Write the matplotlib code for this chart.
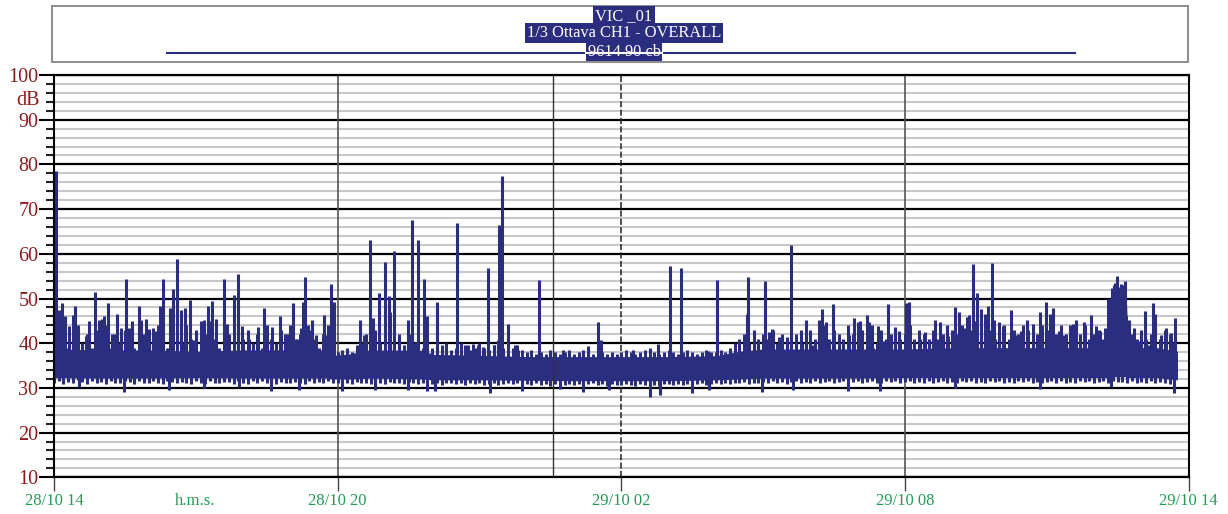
import matplotlib
matplotlib.use("Agg")
import matplotlib.pyplot as plt
from matplotlib.lines import Line2D
from matplotlib.patches import Rectangle
from matplotlib.ticker import MultipleLocator

plt.rcParams["font.family"] = ["Liberation Serif", "DejaVu Serif"]

NAVY = "#2b2e7e"
RED = "#8b1c1c"
GREEN = "#239b56"

# Time axis in minutes from 28/10 14:00
tick_min = [0, 360, 720, 1080, 1440]
tick_labels = ["28/10 14", "28/10 20", "29/10 02", "29/10 08", "29/10 14"]
cursor_min = 633

# Solid core of the background noise (dB)
band_min = [0, 60, 120, 180, 240, 300, 345, 355, 375, 400,
            470, 480, 540, 600, 660, 720, 780, 840, 870, 900,
            960, 1020, 1080, 1140, 1200, 1260, 1336, 1339, 1361, 1364,
            1400, 1426]
band_lo = [32.3, 32.2, 32.2, 32.3, 32.2, 32.2, 32.2, 32.0, 32.0, 32.2,
           32.0, 31.8, 31.8, 31.7, 31.6, 31.6, 31.6, 31.8, 32.0, 32.2,
           32.2, 32.2, 32.3, 32.3, 32.3, 32.3, 32.3, 32.5, 32.5, 32.3,
           32.3, 31.8]
band_hi = [38.7, 38.5, 38.5, 38.2, 38.5, 38.5, 38.5, 37.3, 37.6, 38.5,
           38.4, 37.5, 37.3, 37.0, 37.0, 37.0, 37.0, 37.2, 38.2, 38.7,
           38.7, 38.7, 38.7, 39.0, 39.0, 39.0, 39.0, 50.0, 50.0, 39.0,
           39.0, 38.2]

# Sampled envelope of the trace every 6 minutes: upper and lower reach (dB)
edge_step = 6
edge_hi = [
    42, 40, 43, 39, 41, 44, 40, 42, 39, 43,
    41, 44, 39, 42, 40, 43, 41, 39, 44, 42,
    40, 42, 44, 41, 39, 43, 42, 40, 44, 41,
    43, 40, 42, 45, 41, 39, 43, 42, 40, 44,
    41, 43, 40, 42, 39, 44, 41, 40, 43, 42,
    44, 41, 42, 40, 43, 41, 39, 42, 44, 40,
    38, 38.5, 39, 38, 39.5, 40, 42, 41, 43, 40,
    42, 40, 43, 41, 39, 42, 40, 41, 39, 40,
    39, 38.5, 39.5, 40, 38.5, 39, 40, 39.5, 38.5, 39,
    40, 39, 38.5, 39.5, 40, 39, 38.5, 39, 39.5, 38.5,
    38, 38.5, 37.5, 38, 37.5, 38.5, 38, 37.5, 38, 38.5,
    37.5, 38, 38.5, 38, 37.5, 39, 38, 37.5, 38, 37.5,
    38, 38.5, 38, 37.5, 38, 38.5, 39, 38, 37.5, 38,
    38.5, 38, 37.5, 38, 38.5, 38, 37.5, 38, 38.5, 38,
    38, 38.5, 38, 39, 40, 41, 42, 40, 43, 41,
    42, 41, 43, 40, 42, 41, 40, 42, 43, 41,
    43, 41, 42, 44, 41, 43, 42, 40, 44, 42,
    41, 43, 42, 44, 40, 43, 41, 42, 43, 41,
    42, 44, 41, 43, 42, 40, 43, 41, 42, 44,
    43, 42, 44, 41, 43, 45, 42, 44, 43, 41,
    42, 44, 41, 43, 42, 44, 43, 41, 42, 44,
    43, 41, 42, 44, 42, 41, 43, 42, 44, 41,
    42, 43, 41, 50, 51, 52, 50, 44, 42, 41,
    43, 41, 42, 44, 41, 43, 42, 40,
]
edge_lo = [
    31.2, 31.6, 30.9, 31.4, 31.0, 31.7, 31.3, 30.8, 31.5, 31.1,
    31.4, 30.9, 31.6, 31.2, 31.0, 31.5, 31.3, 30.9, 31.6, 31.2,
    31.0, 31.5, 31.2, 30.8, 31.6, 31.3, 31.0, 31.4, 31.1, 30.9,
    31.5, 31.1, 30.9, 31.6, 31.2, 31.0, 31.4, 31.3, 30.8, 31.5,
    31.2, 30.9, 31.5, 31.1, 31.6, 31.0, 31.3, 30.9, 31.4, 31.2,
    31.0, 31.4, 31.2, 30.8, 31.5, 31.1, 31.3, 31.0, 31.6, 31.2,
    31.0, 30.8, 31.2, 30.9, 31.3, 31.0, 31.2, 30.8, 31.4, 31.1,
    30.9, 31.3, 31.0, 31.2, 30.8, 31.4, 31.1, 30.9, 31.2, 31.0,
    30.8, 31.1, 30.7, 31.0, 31.2, 30.8, 31.0, 30.6, 31.1, 30.9,
    31.0, 30.7, 30.9, 31.1, 30.6, 30.9, 31.0, 30.8, 31.1, 30.7,
    30.8, 30.6, 31.0, 30.7, 30.9, 30.5, 30.8, 31.0, 30.6, 30.9,
    30.7, 30.9, 30.5, 30.8, 31.0, 30.6, 30.8, 30.5, 30.9, 30.7,
    30.6, 30.9, 30.7, 30.5, 30.8, 30.6, 30.9, 30.7, 30.5, 30.8,
    30.9, 30.6, 30.8, 30.7, 30.9, 30.6, 30.8, 31.0, 30.7, 30.9,
    31.0, 30.8, 31.1, 30.9, 31.2, 31.0, 31.3, 30.9, 31.2, 31.0,
    31.3, 31.0, 31.5, 31.1, 31.4, 30.9, 31.3, 31.6, 31.1, 31.4,
    31.2, 31.5, 31.0, 31.4, 31.6, 31.1, 31.3, 31.5, 31.0, 31.4,
    31.5, 31.1, 31.4, 31.6, 31.2, 31.0, 31.5, 31.3, 31.6, 31.1,
    31.3, 31.6, 31.1, 31.4, 31.2, 31.5, 31.0, 31.4, 31.6, 31.2,
    31.4, 31.1, 31.5, 31.3, 31.6, 31.0, 31.4, 31.2, 31.5, 31.3,
    31.6, 31.2, 31.4, 31.1, 31.5, 31.3, 31.6, 31.0, 31.4, 31.2,
    31.3, 31.5, 31.1, 31.6, 31.2, 31.4, 31.0, 31.5, 31.3, 31.6,
    31.2, 31.4, 31.6, 31.1, 31.5, 31.3, 31.4, 31.2, 31.5, 31.0,
    31.4, 31.1, 31.5, 31.2, 31.3, 31.0, 30.8, 30.5,
]
edge_min = [i * edge_step for i in range(len(edge_hi))]

# Short events above the background (minute, peak dB)
peak_min = [2, 6, 10, 14, 19, 24, 27, 40, 45, 52, 57, 61, 64, 69, 74, 80, 85, 91,
            95, 99, 108, 111, 117, 121, 126, 128, 134, 138, 147, 151, 156, 161,
            166, 173, 177, 187, 190, 195, 201, 205, 216, 219, 229, 234, 239, 248,
            259, 266, 277, 287, 293, 298, 303, 308, 313, 316, 319, 322, 327, 333,
            343, 347, 352, 355, 388, 394, 401, 405, 412, 420, 425, 427, 431, 438,
            444, 449, 455, 460, 462, 470, 473, 486, 511, 525, 532, 538, 544, 551,
            559, 563, 565, 569, 576, 585, 589, 615, 646, 678, 691, 694, 735, 767,
            782, 796, 830, 842, 877, 879, 881, 889, 894, 903, 907, 911, 920, 924,
            930, 935, 950, 955, 964, 971, 975, 980, 989, 996, 1002, 1009, 1016,
            1021, 1023, 1032, 1035, 1040, 1046, 1052, 1059, 1067, 1072, 1081, 1085,
            1091, 1099, 1105, 1110, 1118, 1125, 1129, 1135, 1144, 1149, 1155, 1159,
            1162, 1166, 1172, 1176, 1182, 1186, 1191, 1193, 1200, 1205, 1215, 1222,
            1227, 1235, 1243, 1252, 1259, 1264, 1268, 1275, 1282, 1289, 1294, 1297,
            1307, 1316, 1322, 1328, 1334, 1341, 1343, 1345, 1347, 1349, 1351, 1354,
            1356, 1359, 1361, 1364, 1371, 1377, 1385, 1390, 1395, 1398, 1405, 1412,
            1418, 1423]
peak_db = [78.5, 47.5, 49.0, 46.0, 43.8, 46.4, 48.4, 41.6, 45.0, 51.4, 45.1, 45.5,
           46.1, 49.0, 42.0, 46.6, 43.5, 54.4, 43.5, 45.0, 48.3, 45.3, 45.5, 43.2,
           43.5, 42.8, 48.3, 54.4, 47.9, 52.1, 58.9, 47.4, 47.8, 49.7, 40.7, 45.0,
           45.2, 48.3, 49.4, 45.5, 54.4, 44.2, 50.8, 55.5, 43.8, 41.0, 43.6, 47.9,
           43.6, 46.0, 42.1, 42.1, 49.0, 41.0, 43.5, 49.2, 54.8, 44.0, 45.1, 41.9,
           46.2, 41.9, 53.2, 49.2, 45.3, 41.9, 63.1, 45.6, 51.3, 58.2, 50.6, 47.0,
           60.7, 42.1, 39.5, 45.3, 67.5, 40.3, 63.0, 54.3, 46.1, 49.2, 66.9, 39.6,
           39.8, 39.7, 39.2, 56.8, 39.7, 40.7, 66.5, 77.4, 44.3, 39.7, 38.5, 54.2,
           38.5, 39.4, 44.7, 40.7, 38.4, 39.8, 57.2, 56.9, 38.3, 54.2, 40.3, 46.6,
           54.9, 40.4, 40.8, 54.0, 42.5, 43.2, 41.3, 40.5, 41.3, 62.0, 40.1, 45.3,
           39.5, 45.3, 47.7, 44.8, 48.7, 39.5, 41.0, 41.9, 45.6, 44.8, 45.0, 46.2,
           44.8, 39.0, 43.8, 40.6, 48.8, 43.6, 42.7, 49.0, 49.2, 39.5, 41.0, 42.5,
           41.0, 45.2, 44.7, 41.0, 41.7, 48.2, 47.0, 43.5, 45.8, 46.3, 57.7, 51.2,
           47.7, 46.6, 48.4, 58.0, 45.3, 44.8, 43.9, 47.4, 41.9, 42.7, 45.2, 44.3,
           47.0, 49.2, 46.6, 47.8, 42.7, 41.9, 44.0, 44.4, 45.2, 44.8, 46.3, 43.9,
           42.7, 43.5, 50.0, 52.3, 53.0, 53.5, 55.0, 52.5, 53.2, 53.0, 54.0, 46.0,
           45.3, 43.5, 40.5, 47.3, 39.6, 49.0, 46.6, 41.9, 43.5, 42.2, 45.6]

# Brief drops below the background floor (minute, dB)
dip_min = [32, 89, 146, 191, 235, 276, 311, 365, 407, 449, 474, 483, 554, 594,
           642, 671, 705, 756, 769, 810, 832, 899, 938, 1008, 1049, 1144, 1252,
           1341, 1421]
dip_db = [30.2, 29.1, 29.5, 30.0, 30.2, 29.4, 29.6, 29.4, 29.6, 29.6, 29.4, 29.2,
          28.8, 29.2, 29.8, 29.1, 29.6, 27.9, 28.4, 28.8, 29.5, 29.1, 29.5, 29.2,
          29.4, 30.0, 29.8, 30.3, 28.8]

W, H = 1228, 514
fig = plt.figure(figsize=(W / 100, H / 100), dpi=100)
fig.patch.set_facecolor("white")

ax_l, ax_r, ax_t, ax_b = 54, 1188.5, 75, 477.3
ax = fig.add_axes([ax_l / W, 1 - ax_b / H, (ax_r - ax_l) / W, (ax_b - ax_t) / H])
ax.set_xlim(0, 1440)
ax.set_ylim(10, 100)

# grid
ax.set_axisbelow(True)
ax.yaxis.set_major_locator(MultipleLocator(10))
ax.yaxis.set_minor_locator(MultipleLocator(2))
ax.grid(which="minor", axis="y", color="#c8c8c8", lw=1.5)
ax.grid(which="major", axis="y", color="black", lw=1.6)
ax.axvline(360, color="#555555", lw=1.2, zorder=0.6)
ax.axvline(720, color="#222222", lw=1.1, ls=(0, (4, 1.5)), zorder=0.6)
ax.axvline(1080, color="#555555", lw=1.2, zorder=0.6)

# level trace
LW = 2.2
ax.fill_between(band_min, band_lo, band_hi, color=NAVY, lw=0, zorder=2)
ax.vlines(edge_min, edge_lo, edge_hi, colors=NAVY, lw=LW, zorder=2)
ax.vlines(peak_min, 34, peak_db, colors=NAVY, lw=LW, zorder=2)
ax.vlines(dip_min, dip_db, 34, colors=NAVY, lw=LW, zorder=2)

ax.axvline(cursor_min, color="#333333", lw=1.0, zorder=3)

# axes styling
for side in ("top", "bottom"):
    ax.spines[side].set_linewidth(1.6)
    ax.spines[side].set_color("black")
for side in ("left", "right"):
    ax.spines[side].set_linewidth(1.5)
    ax.spines[side].set_color("black")

ax.set_xticks(tick_min, tick_labels)
ax.tick_params(axis="x", which="major", length=10, width=1.0, color="#444444",
               pad=1, labelsize=12, labelcolor=GREEN)
ax.tick_params(axis="y", which="major", length=10.8, width=1.5, color="black",
               pad=0.5, labelsize=14.5, labelcolor=RED)
ax.tick_params(axis="y", which="minor", length=5.8, width=1.5, color="#222222")
ax.annotate("dB", xy=(0, 94.4), xycoords=("axes fraction", "data"),
            xytext=(-10.6, 0), textcoords="offset points",
            ha="right", va="center", fontsize=14.5, color=RED)
ax.annotate("h.m.s.", xy=(179, 0), xycoords=("data", "axes fraction"),
            xytext=(0, -11), textcoords="offset points",
            ha="center", va="top", fontsize=12, color=GREEN)

# header box
box = Rectangle((52 / W, 1 - 62.3 / H), (1188 - 52) / W, (62.3 - 5.7) / H,
                transform=fig.transFigure, facecolor="white",
                edgecolor="#7a7a7a", lw=1.2, zorder=1)
fig.add_artist(box)

cx = 624 / W
hdr = dict(ha="center", va="center", color="white", fontsize=11.8, zorder=3,
           bbox=dict(boxstyle="square,pad=0.12", fc=NAVY, ec="none"))
fig.text(cx, 1 - 15.7 / H, "VIC _01", **hdr)
fig.text(cx, 1 - 33.3 / H, "1/3 Ottava CH1 - OVERALL", **hdr)
t3 = fig.text(cx, 1 - 51.5 / H, "9614 90 cb", **hdr)

y_line = 1 - 53 / H
fig.add_artist(Line2D([167 / W, 1075 / W], [y_line, y_line], color=NAVY, lw=1.5,
                      transform=fig.transFigure, zorder=2))

fig.canvas.draw()
ext = t3.get_bbox_patch().get_window_extent(fig.canvas.get_renderer())
fig.add_artist(Line2D([ext.x0 / W, ext.x1 / W], [y_line, y_line], color="white",
                      lw=1.5, transform=fig.transFigure, zorder=4))

fig.savefig("out.png", dpi=100, facecolor="white")
